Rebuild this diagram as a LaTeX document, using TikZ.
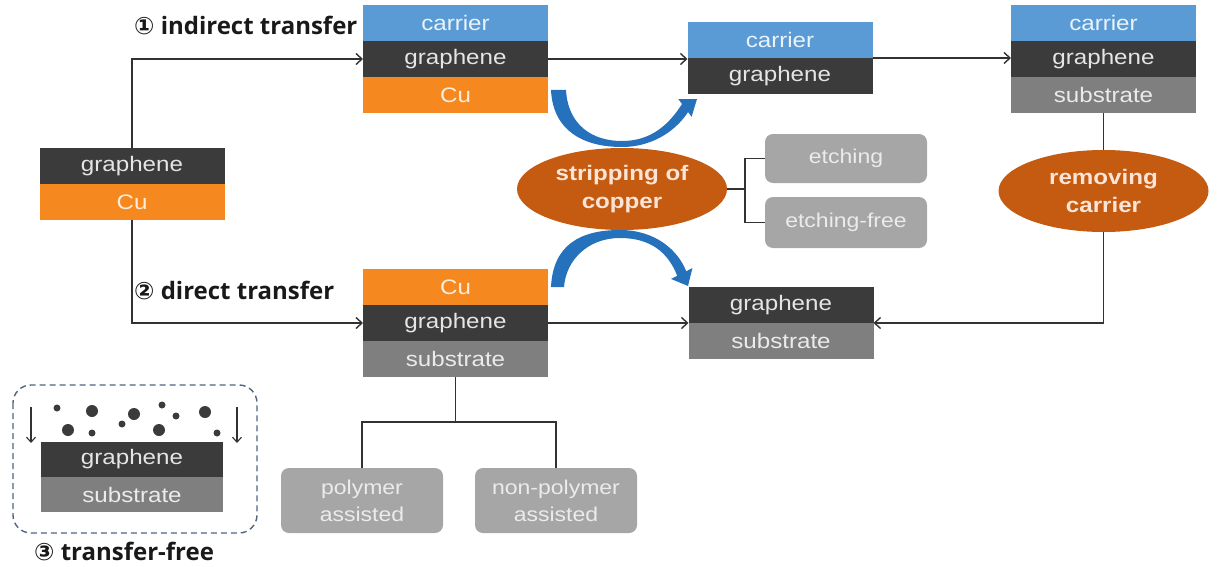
\documentclass[tikz,border=0pt]{standalone}
\usepackage{fontspec}
\setmainfont{Liberation Sans}[FakeStretch=1.15]
\newfontfamily\headfont{Open Sans}
\newfontfamily\numfont{DejaVu Sans}
\usetikzlibrary{shapes.geometric,arrows.meta}

\definecolor{carrierblue}{RGB}{91,155,213}
\definecolor{grapheneclr}{RGB}{59,59,59}
\definecolor{cuclr}{RGB}{245,137,31}
\definecolor{substrateclr}{RGB}{127,127,127}
\definecolor{ovalclr}{RGB}{197,90,17}
\definecolor{ovaltext}{RGB}{252,228,214}
\definecolor{optionclr}{RGB}{166,166,166}
\definecolor{swoopblue}{RGB}{38,113,188}
\definecolor{lineclr}{RGB}{50,50,50}
\definecolor{dashclr}{RGB}{80,100,130}

\tikzset{
  layer/.style={minimum width=185pt, minimum height=36pt, inner sep=0pt, outer sep=0pt,
    font=\fontsize{21}{24}\selectfont},
  carrierL/.style={layer, fill=carrierblue, text=white!88!carrierblue},
  grL/.style={layer, fill=grapheneclr, text=white!90!black},
  cuL/.style={layer, fill=cuclr, text=white!85!cuclr},
  subL/.style={layer, fill=substrateclr, text=white!92!black},
  option/.style={fill=optionclr, rounded corners=8pt, minimum width=162pt, inner sep=0pt,
    outer sep=0pt, text=white!92!black, font=\fontsize{20}{27}\selectfont, align=center},
  oval/.style={ellipse, fill=ovalclr, minimum width=210pt, minimum height=82pt, inner sep=0pt,
    outer sep=0pt, text=ovaltext, font=\bfseries\fontsize{21}{28}\selectfont, align=center},
  conn/.style={draw=lineclr, line width=1.4pt},
  arr/.style={conn, -{Straight Barb[length=6pt,width=11pt,line width=1.4pt]}},
  fall/.style={draw=lineclr, line width=1.1pt, -{Straight Barb[length=5pt,width=9pt,line width=1.1pt]}},
  swoop/.style={fill=swoopblue},
  tag/.style={font=\headfont\bfseries\fontsize{24}{28}\selectfont, text=black!90, anchor=west, inner sep=0pt},
  dot/.style={fill=grapheneclr},
}

\begin{document}
\begin{tikzpicture}[x=1pt, y=-1pt]
\useasboundingbox (0,0) rectangle (1217,567);

% starting stack: graphene grown on copper
\node[grL] (Lgr) at (132,166) {graphene};
\node[cuL] (Lcu) at (132,202) {Cu};

% indirect route
\node[carrierL] (Acar) at (455.5,23) {carrier};
\node[grL]      (Agr)  at (455.5,59) {graphene};
\node[cuL]      (Acu)  at (455.5,95) {Cu};

\node[carrierL] (Bcar) at (780,40) {carrier};
\node[grL]      (Bgr)  at (780,76) {graphene};

\node[carrierL] (Ccar) at (1103.5,23) {carrier};
\node[grL]      (Cgr)  at (1103.5,59) {graphene};
\node[subL]     (Csub) at (1103.5,95) {substrate};

% direct route
\node[cuL]  (Ecu)  at (455.5,287) {Cu};
\node[grL]  (Egr)  at (455.5,323) {graphene};
\node[subL] (Esub) at (455.5,359) {substrate};

% final stack
\node[grL]  (Dgr)  at (781,305) {graphene};
\node[subL] (Dsub) at (781,341) {substrate};

% process ovals
\node[oval] (strip)  at (622,189)    {stripping of\\copper};
\node[oval] (remove) at (1103.5,191) {removing\\carrier};

% method options
\node[option, minimum height=49pt] (etch)     at (846,158.5) {etching};
\node[option, minimum height=51pt] (etchfree) at (846,222.5) {etching-free};
\node[option, minimum height=65pt] (poly)     at (362,500.5) {polymer\\assisted};
\node[option, minimum height=65pt] (nonpoly)  at (556,500.5) {non-polymer\\assisted};

% route labels
\node[tag] (lab1) at (134,25)  {{\numfont ①} indirect transfer};
\node[tag] (lab2) at (134,290) {{\numfont ②} direct transfer};
\node[tag] (lab3) at (34,551)  {{\numfont ③} transfer-free};

% connectors
\draw[arr] (Lgr.north) |- (Agr.west);
\draw[arr] (Lcu.south) |- (Egr.west);
\draw[arr] (Agr.east) -- (Agr.east -| Bcar.west);
\draw[arr] (Bgr.north east) -- (Bgr.north east -| Cgr.west);
\draw[conn] (Csub.south) -- (remove.north);
\draw[arr] (remove.south) |- (Dgr.south east);
\draw[arr] (Egr.east) -- (Egr.east -| Dgr.west);

% bracket to the copper stripping options
\draw[conn] (strip.east) -- ++(18,0) coordinate (br);
\draw[conn] (etch.west) -| (br) |- (etchfree.west);

% tree below the direct-transfer stack
\draw[conn] (Esub.south) -- ++(0,45) coordinate (tj);
\draw[conn] (poly.north) |- (tj) -| (nonpoly.north);

% curved blue arrows around the stripping step (tapered bands)
\begin{scope}[shift={(Acu.south east)}]
  \fill[swoop] (3,-23) .. controls (5,19) and (37,34) .. (74,34)
    .. controls (107,34) and (130,15) .. (140,-1)
    -- (143.6,3.8) -- (149,-14) -- (130.4,-13.8) -- (134,-9)
    .. controls (120,13) and (102,28) .. (74,28)
    .. controls (44,28) and (20,12) .. (18,-23) -- cycle;
\end{scope}
\begin{scope}[shift={(Ecu.north east)}]
  \fill[swoop] (3,18) .. controls (5,-24) and (32,-39) .. (72,-39)
    .. controls (107,-39) and (130,-19) .. (138.2,2.3)
    -- (144.4,-0.9) -- (140,17) -- (123,9.9) -- (129.2,6.8)
    .. controls (120,-17) and (102,-31) .. (72,-31)
    .. controls (40,-31) and (18,-9) .. (16,18) -- cycle;
\end{scope}

% transfer-free growth panel
\draw[dashclr, line width=1.4pt, dash pattern=on 6pt off 4pt, rounded corners=18pt]
  (13,385) rectangle (257,533);
\node[grL, minimum width=182pt, minimum height=35pt] (TFgr)  at (132,459.5) {graphene};
\node[subL, minimum width=182pt, minimum height=35pt] (TFsub) at (132,494.5) {substrate};
\coordinate (fallL) at (31,407);
\coordinate (fallR) at (237,407);
\draw[fall] (fallL) -- ++(0,36);
\draw[fall] (fallR) -- ++(0,36);
\foreach \px/\py/\r in {57/408/3.5, 92/411/6, 68/430/6, 92/433/3.5, 122/424/3.5,
                        134/414/6, 162/405/3.5, 176/416/3.5, 159/430/6, 205/412/6, 217/433/3.5}
  \fill[dot] (\px,\py) circle[radius=\r pt];
\end{tikzpicture}
\end{document}
